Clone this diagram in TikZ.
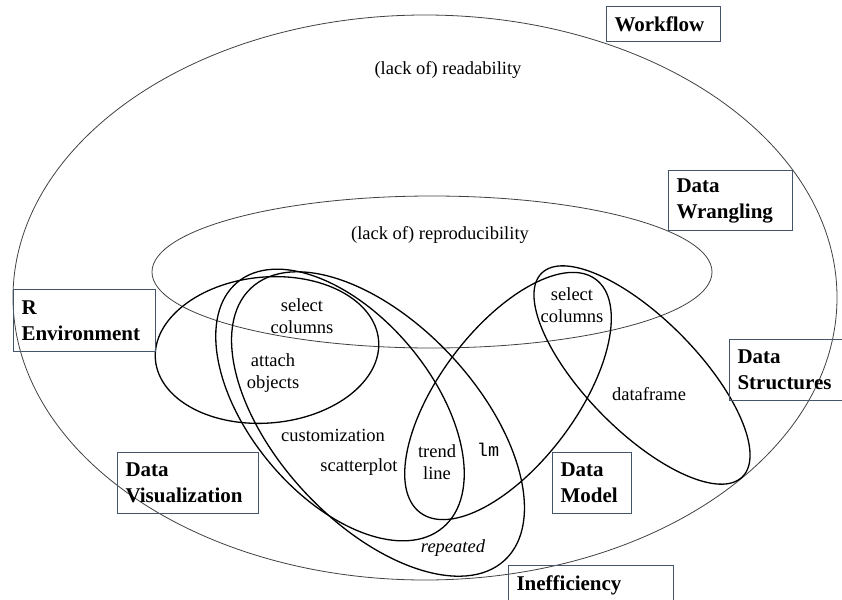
\documentclass[tikz,border=0pt]{standalone}
\usepackage{fontspec}
\setmainfont{Liberation Serif}
\setmonofont{Liberation Mono}
\definecolor{boxblue}{RGB}{68,84,106}
\begin{document}
\begin{tikzpicture}[x=1pt,y=-1pt,
  thinring/.style={draw=black!75, line width=0.8pt},
  ring/.style={draw=black, line width=1.3pt},
  lbl/.style={font=\fontsize{18.5}{22}\selectfont, align=center, inner sep=0pt},
  boxlbl/.style={draw=boxblue, line width=1pt, font=\bfseries\fontsize{21}{26}\selectfont,
    align=left, inner xsep=8pt, inner ysep=0pt, anchor=north west}]
\useasboundingbox (0,0) rectangle (842,599);
\clip (0,0) rectangle (842,599);

% outer sets
\draw[thinring] (425,297.5) ellipse [x radius=412pt, y radius=282.5pt];
\draw[thinring] (432,272) ellipse [x radius=280pt, y radius=76pt];

% inner sets
\draw[ring, rotate around={5:(267,350)}] (267,350) ellipse [x radius=112pt, y radius=73pt];
\draw[ring, rotate around={-50:(340,405)}] (340,405) ellipse [x radius=160pt, y radius=91pt];
\draw[ring, rotate around={-47:(378,424)}] (378,424) ellipse [x radius=186pt, y radius=100pt];
\draw[ring, rotate around={53:(508,396)}] (508,396) ellipse [x radius=146pt, y radius=68pt];
\draw[ring, rotate around={-45.4:(642,375)}] (642,375) ellipse [x radius=143pt, y radius=56pt];

% set names
\node[boxlbl, text width=98pt, minimum height=35pt] (wf) at (606,6) {Workflow};
\node[boxlbl, text width=108pt, minimum height=60pt] (dwr) at (668,170) {Data\\Wrangling};
\node[boxlbl, text width=126pt, minimum height=62pt] (renv) at (13,289) {R\\Environment};
\node[boxlbl, text width=125pt, minimum height=61pt] (dviz) at (117,452) {Data\\Visualization};
\node[boxlbl, text width=114pt, minimum height=61pt] (dstr) at (729,339) {Data\\Structures};
\node[boxlbl, text width=63pt, minimum height=61pt] (dmod) at (552,452) {Data\\Model};
\node[boxlbl, text width=149pt, minimum height=40pt] (ineff) at (508,565) {Inefficiency};

% items
\node[lbl] (read) at (448,70) {(lack of) readability};
\node[lbl] (repro) at (440,235) {(lack of) reproducibility};
\node[lbl] (selL) at (302,316) {select\\columns};
\node[lbl] (attach) at (273,373) {attach\\objects};
\node[lbl] (cust) at (333,435) {customization};
\node[lbl] (scat) at (359,467) {scatterplot};
\node[lbl] (trend) at (437,462) {trend\\line};
\node[lbl, font=\ttfamily\fontsize{18.5}{22}\selectfont] (lm) at (488,450) {lm};
\node[lbl, font=\itshape\fontsize{18.5}{22}\selectfont] (rep) at (453,548) {repeated};
\node[lbl] (selR) at (572,305) {select\\columns};
\node[lbl] (df) at (649,394) {dataframe};
\end{tikzpicture}
\end{document}
